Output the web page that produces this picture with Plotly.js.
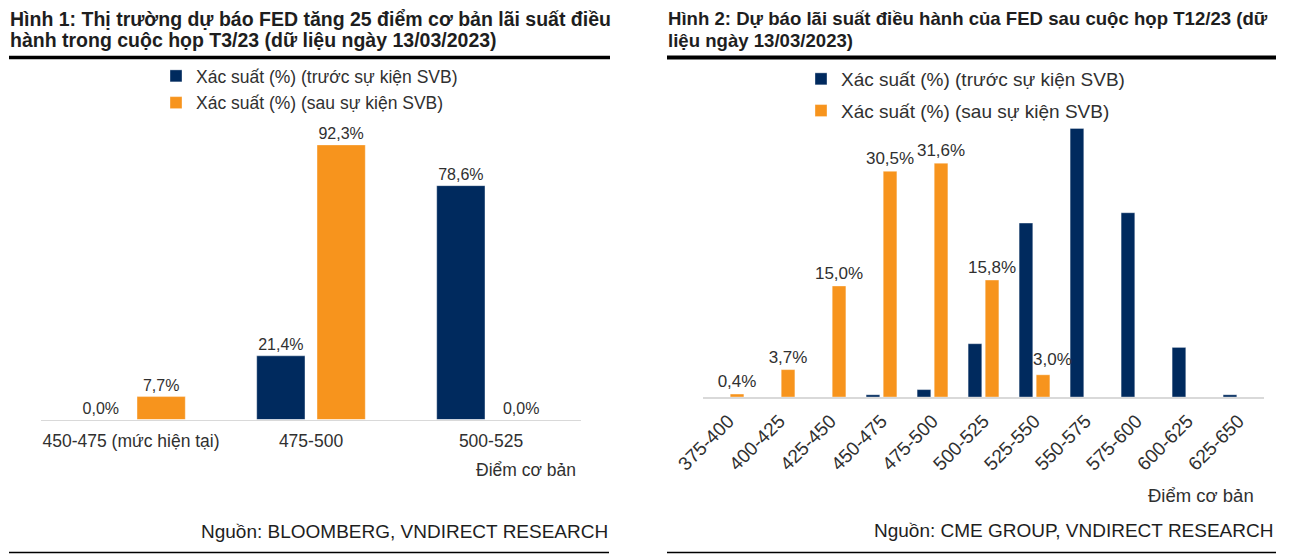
<!DOCTYPE html>
<html>
<head>
<meta charset="utf-8">
<script src="https://cdn.plot.ly/plotly-3.0.1.min.js"></script>
<style>
  html, body { margin: 0; padding: 0; background: #ffffff; }
  #chart { width: 1302px; height: 554px; }
</style>
</head>
<body>
<div id="chart"></div>
<script>
// ---------------- data ----------------
const seriesNames = ['Xác suất (%) (trước sự kiện SVB)', 'Xác suất (%) (sau sự kiện SVB)'];

const categories1 = ['450-475 (mức hiện tại)', '475-500', '500-525'];
const before1 = [0.0, 21.4, 78.6];
const after1 = [7.7, 92.3, 0.0];

const categories2 = ['375-400', '400-425', '425-450', '450-475', '475-500', '500-525',
                     '525-550', '550-575', '575-600', '600-625', '625-650'];
const before2 = [null, null, null, 0.3, 1.0, 7.2, 23.5, 36.3, 24.9, 6.7, 0.3];
const after2 = [0.4, 3.7, 15.0, 30.5, 31.6, 15.8, 3.0, null, null, null, null];

const title1Lines = ['Hình 1: Thị trường dự báo FED tăng 25 điểm cơ bản lãi suất điều',
                     'hành trong cuộc họp T3/23 (dữ liệu ngày 13/03/2023)'];
const title2Lines = ['Hình 2: Dự báo lãi suất điều hành của FED sau cuộc họp T12/23 (dữ',
                     'liệu ngày 13/03/2023)'];
const source1 = 'Nguồn: BLOOMBERG, VNDIRECT RESEARCH';
const source2 = 'Nguồn: CME GROUP, VNDIRECT RESEARCH';
const axisUnit = 'Điểm cơ bản';

// ---------------- style ----------------
const W = 1302, H = 554;
const X = px => px / W;
const Y = py => 1 - py / H;
const FONT = 'Arial, "Liberation Sans", sans-serif';
const NAVY = '#002a5e';
const ORANGE = '#f7941d';
const TXT = '#303030';
const TITLE_C = '#1e1e1e';
const fmt = v => (v === null ? '' : v.toFixed(1).replace('.', ',') + '%');

// the "3,0%" label of 525-550 is nudged right in the source chart (drawn as an annotation)
const shiftedIdx2 = 6;

function barTrace(xs, ys, name, color, texts, fontSize, xa, ya, leg, group) {
  return {
    type: 'bar', x: xs, y: ys, name: name,
    xaxis: xa, yaxis: ya, legend: leg, legendgroup: group,
    marker: { color: color, line: { color: 'rgba(255,255,255,0.6)', width: 0.6 } },
    text: texts || undefined,
    texttemplate: texts ? '%{text}' : '',
    textposition: texts ? 'outside' : 'none',
    constraintext: 'none',
    cliponaxis: false,
    textfont: { family: FONT, size: fontSize, color: TXT },
    hoverinfo: 'skip'
  };
}

const data = [
  barTrace(categories1, before1, seriesNames[0], NAVY, before1.map(fmt), 16, 'x', 'y', 'legend', 'a'),
  barTrace(categories1, after1, seriesNames[1], ORANGE, after1.map(fmt), 16, 'x', 'y', 'legend', 'b'),
  barTrace(categories2, before2, seriesNames[0], NAVY, null, 17, 'x2', 'y2', 'legend2', 'c'),
  barTrace(categories2, after2, seriesNames[1], ORANGE,
           after2.map((v, i) => (i === shiftedIdx2 ? '' : fmt(v))), 17, 'x2', 'y2', 'legend2', 'd')
];

const xCommon = {
  type: 'category', showline: true, linecolor: '#d9d9d9', linewidth: 1.5,
  showgrid: false, zeroline: false, ticks: '', fixedrange: true
};

function textNote(text, xpx, ypx, xanchor, size, color, bold) {
  return { text: text, xref: 'paper', yref: 'paper', x: X(xpx), y: Y(ypx), xanchor: xanchor, yanchor: 'middle',
           align: 'left', showarrow: false,
           font: { family: FONT, size: size, color: color, weight: bold ? 'bold' : 'normal' } };
}

const layout = {
  width: W, height: H,
  margin: { l: 0, r: 0, t: 0, b: 0 },
  paper_bgcolor: '#ffffff', plot_bgcolor: 'rgba(0,0,0,0)',
  font: { family: FONT, color: TXT },
  separators: ',.',
  barmode: 'group', bargap: 0.33, bargroupgap: 0.2,
  showlegend: true,
  xaxis: Object.assign({}, xCommon, { domain: [X(41), X(581)], anchor: 'y', tickangle: 0, ticklabelstandoff: 5,
    tickfont: { family: FONT, size: 17.5, color: TXT } }),
  yaxis: { domain: [Y(419.5), Y(122)], range: [0, 100], visible: false, fixedrange: true, anchor: 'x' },
  xaxis2: Object.assign({}, xCommon, { domain: [X(703), X(1264)], anchor: 'y2', tickangle: -45, ticklabelstandoff: 4,
    tickfont: { family: FONT, size: 19, color: TXT } }),
  yaxis2: { domain: [Y(397), Y(101)], range: [0, 40], visible: false, fixedrange: true, anchor: 'x2' },
  legend: {
    x: X(156), y: Y(58), xanchor: 'left', yanchor: 'top', orientation: 'v',
    bgcolor: 'rgba(0,0,0,0)', borderwidth: 0, tracegroupgap: 1,
    font: { family: FONT, size: 17.5, color: TXT }
  },
  legend2: {
    x: X(801), y: Y(60), xanchor: 'left', yanchor: 'top', orientation: 'v',
    bgcolor: 'rgba(0,0,0,0)', borderwidth: 0, tracegroupgap: 4,
    font: { family: FONT, size: 19, color: TXT }
  },
  annotations: [
    textNote(title1Lines[0], 8, 18.5, 'left', 19.5, TITLE_C, true),
    textNote(title1Lines[1], 8, 40, 'left', 19.5, TITLE_C, true),
    textNote(title2Lines[0], 666, 18.5, 'left', 18.6, TITLE_C, true),
    textNote(title2Lines[1], 666, 40, 'left', 18.6, TITLE_C, true),
    textNote(source1, 610, 531, 'right', 19, TITLE_C, false),
    textNote(source2, 1275, 530, 'right', 19, TITLE_C, false),
    textNote(axisUnit, 578, 470, 'right', 17.5, TXT, false),
    textNote(axisUnit, 1256, 495, 'right', 18.5, TXT, false),
    { text: fmt(after2[shiftedIdx2]), xref: 'x2', yref: 'y2', x: categories2[shiftedIdx2], y: after2[shiftedIdx2],
      xshift: 18, yshift: 4, xanchor: 'center', yanchor: 'bottom', showarrow: false,
      font: { family: FONT, size: 17, color: TXT } }
  ],
  shapes: [
    { type: 'line', xref: 'paper', yref: 'paper', x0: X(9), x1: X(610), y0: Y(57.5), y1: Y(57.5), line: { color: '#000000', width: 3.5 } },
    { type: 'line', xref: 'paper', yref: 'paper', x0: X(667), x1: X(1276), y0: Y(57.5), y1: Y(57.5), line: { color: '#000000', width: 4 } },
    { type: 'line', xref: 'paper', yref: 'paper', x0: X(9), x1: X(609), y0: Y(552.5), y1: Y(552.5), line: { color: '#000000', width: 1.5 } },
    { type: 'line', xref: 'paper', yref: 'paper', x0: X(667), x1: X(1276), y0: Y(552.5), y1: Y(552.5), line: { color: '#000000', width: 1.5 } }
  ]
};

Plotly.newPlot('chart', data, layout, { displayModeBar: false, staticPlot: true });
</script>
</body>
</html>
